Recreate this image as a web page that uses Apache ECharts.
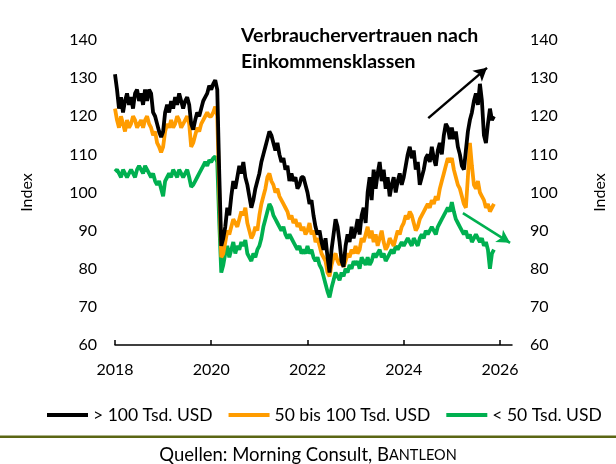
<!DOCTYPE html>
<html>
<head>
<meta charset="utf-8">
<script src="https://cdn.jsdelivr.net/npm/echarts@6/dist/echarts.min.js"></script>
<style>
  html, body { margin: 0; padding: 0; background: #fff; }
  #chart { width: 616px; height: 464px; }
</style>
</head>
<body>
<div id="chart"></div>
<script>
// half-monthly readings (1st and 16th of each month), Jan 2018 .. Nov 2025
const startYear = 2018
const yearTicks = [2018, 2020, 2022, 2024, 2026]

// > 100 Tsd. USD
const high = [
  131, 127, 122, 125, 121, 124, 126, 123, 125, 122, 126, 127, 124, 126, 123, 127, 124, 127, 126, 121, 120, 118, 116, 114.5, // 2018
  116, 121, 123, 121, 124, 122, 125, 123, 126, 124, 122, 124, 125, 123, 118, 116.5, 119, 121, 120, 122, 124, 125, 126, 128, // 2019
  127, 128.5, 129.5, 127, 105, 86, 88, 91, 96, 94, 99, 103, 101, 104, 107, 105, 108, 104, 102, 99, 96, 98, 101, 103,      // 2020
  105, 108, 110, 112, 114, 116, 115, 113, 111, 113, 110, 108, 109, 106, 107, 103, 105, 103, 104, 101, 102, 104, 104, 102, // 2021
  100, 97, 98, 94, 91, 89, 90, 87, 85, 88, 83, 79, 85, 89, 93, 91, 87, 82, 80.5, 86, 89, 87, 91, 88,                    // 2022
  90, 93, 89, 94, 96, 92, 100, 104, 98, 106, 101, 105, 108, 103, 106, 101, 104, 99, 102, 104, 100, 103, 105, 102,        // 2023
  104, 107, 110, 112, 109, 111, 106, 108, 102, 104, 106, 109, 110, 108, 112, 109, 107, 111, 113, 110, 115, 118, 117, 114, // 2024
  117, 114, 116, 112, 110, 107, 106, 111, 116, 119, 121, 124, 126, 123, 128.5, 124, 115, 113, 118, 122, 119, 120         // 2025
]
// 50 bis 100 Tsd. USD
const mid = [
  122, 119, 117, 120, 118, 116, 119, 117, 118, 120, 119, 117, 118, 119, 117, 119, 120, 118, 117, 115, 116, 113, 112, 110.5, // 2018
  112, 116, 118, 117, 119, 117, 118, 120, 119, 117, 118, 119, 120, 118, 112, 113, 115, 117, 116, 118, 119, 120, 121, 120,   // 2019
  120, 121, 122.5, 120, 100, 83, 84, 87, 90, 89, 91, 93, 92, 91, 93, 95, 94, 96, 92, 90, 88, 89, 91, 90,                  // 2020
  94, 97, 99, 101, 104, 105, 103, 102, 100, 101, 99, 98, 97, 96, 95, 93, 94, 92, 93, 91, 92, 90, 91, 89,                  // 2021
  90, 92, 89, 90, 87, 88, 86, 84, 83, 82, 79, 78, 81, 83, 84, 82, 81, 83, 80.5, 82, 84, 83, 85, 84,                       // 2022
  86, 84, 85, 88, 87, 89, 91, 88, 90, 87, 89, 86, 88, 90, 87, 85, 86, 88, 87, 86, 88, 90, 89, 91,                         // 2023
  92, 94, 93, 95, 94, 92, 90, 91, 93, 94, 95, 96, 97, 96, 98, 97, 99, 98, 101, 103, 105, 107, 109, 108,                   // 2024
  109, 106, 104, 102, 101, 99, 97, 96, 104, 113, 107, 102, 101, 103, 100, 99, 98, 96, 97, 95, 96, 97                      // 2025
]
// < 50 Tsd. USD
const low = [
  105.5, 106, 105, 104, 106, 105, 104, 105, 106, 105, 104, 106, 107, 106, 105, 107, 106, 105, 104, 105, 103, 102, 103, 101, // 2018
  99, 103, 104, 105, 104, 106, 105, 104, 106, 105, 104, 105, 106, 104, 101.5, 102, 103, 104, 105, 106, 107, 108, 107, 108.5, // 2019
  108, 109, 109.5, 108, 92, 79, 81, 84, 86, 83, 85, 87, 84, 86, 85, 87, 86, 87.5, 84, 83, 82, 84, 83, 85,                  // 2020
  86, 88, 91, 93, 95, 97, 96, 94, 93, 92, 91, 90, 91, 89, 88, 89, 88, 87, 86, 85, 86, 84, 85, 84,                          // 2021
  86, 84, 85, 83, 82, 83, 81, 80, 78, 76, 74, 72.5, 75, 77, 79, 78, 77, 79, 78, 80, 79, 81, 80, 82,                        // 2022
  81, 82, 80, 83, 82, 81, 83, 81, 82, 84, 83, 84, 85, 83, 84, 82, 83, 84, 85, 84, 86, 85, 86, 87,                          // 2023
  86, 87, 88, 87, 86, 88, 87, 86, 88, 89, 88, 90, 89, 90, 91, 90, 89, 91, 92, 93, 94, 95, 96, 95,                          // 2024
  97.5, 95, 93, 92, 91, 90, 89, 90, 88, 89, 87, 88, 89, 88, 87, 88, 86, 87, 85, 80, 84, 85                                 // 2025
]

// arrows (annotation) in data space
const arrowUp = [[2024.51, 119.5], [2025.73, 132.7]]
const arrowDown = [[2025.23, 94.6], [2026.21, 86.8]]

const FONT = 'Lato'

function toPoints(arr) {
  return arr.map((v, i) => [startYear + i / 24, v])
}

const chart = echarts.init(document.getElementById('chart'))

const yAxisBase = {
  type: 'value',
  min: 60,
  max: 140,
  interval: 10,
  axisLine: { show: false },
  axisTick: { show: false },
  splitLine: { show: false },
  axisLabel: { color: '#000', fontSize: 16, fontFamily: FONT, margin: 18 },
  name: 'Index',
  nameLocation: 'middle',
  nameRotate: 90,
  nameGap: 80,
  nameTextStyle: { color: '#000', fontSize: 16, fontFamily: FONT }
}

chart.setOption({
  animation: false,
  title: {
    text: 'Verbrauchervertrauen nach\nEinkommensklassen',
    left: 236,
    top: 18,
    textStyle: { color: '#000', fontSize: 19.5, fontWeight: 'bold', fontFamily: FONT, lineHeight: 26 }
  },
  grid: { left: 115, right: 104, top: 40, bottom: 119 },
  xAxis: {
    type: 'value',
    min: 2018,
    max: 2026.25,
    interval: 2,
    axisLine: { lineStyle: { color: '#000', width: 1.5 } },
    axisTick: { inside: true, length: 5, lineStyle: { color: '#000', width: 1.5 } },
    splitLine: { show: false },
    axisLabel: {
      color: '#000', fontSize: 16, fontFamily: FONT, margin: 17,
      showMaxLabel: false,
      formatter: v => (yearTicks.indexOf(v) >= 0 ? String(v) : '')
    }
  },
  yAxis: [
    Object.assign({}, yAxisBase, { position: 'left' }),
    Object.assign({}, yAxisBase, { position: 'right' })
  ],
  legend: {
    data: ['> 100 Tsd. USD', '50 bis 100 Tsd. USD', '< 50 Tsd. USD'],
    left: 42,
    top: 401,
    icon: 'rect',
    itemWidth: 41,
    itemHeight: 4,
    itemGap: 16,
    textStyle: { color: '#000', fontSize: 17.5, fontFamily: FONT }
  },
  graphic: [
    { type: 'rect', shape: { x: 0, y: 435.5, width: 616, height: 2.5 }, style: { fill: '#5b6614' } },
    {
      type: 'text', x: 308, y: 455,
      style: {
        text: '{a|Quellen: Morning Consult, B}{b|ANTLEON}',
        align: 'center', verticalAlign: 'middle',
        rich: {
          a: { fontSize: 18.5, fontFamily: FONT, fill: '#000' },
          b: { fontSize: 14.5, fontFamily: FONT, fill: '#000' }
        }
      }
    }
  ],
  series: [
    {
      name: '< 50 Tsd. USD', type: 'line', showSymbol: false,
      data: toPoints(low),
      itemStyle: { color: '#00b050' },
      lineStyle: { color: '#00b050', width: 3.8 },
      markLine: {
        silent: true, symbol: ['none', 'arrow'], symbolSize: [11, 13],
        label: { show: false },
        lineStyle: { color: '#00b050', width: 2.5, type: 'solid' },
        data: [[{ coord: arrowDown[0] }, { coord: arrowDown[1] }]]
      }
    },
    {
      name: '50 bis 100 Tsd. USD', type: 'line', showSymbol: false,
      data: toPoints(mid),
      itemStyle: { color: '#ff9c00' },
      lineStyle: { color: '#ff9c00', width: 3.8 }
    },
    {
      name: '> 100 Tsd. USD', type: 'line', showSymbol: false,
      data: toPoints(high),
      itemStyle: { color: '#000' },
      lineStyle: { color: '#000', width: 3.8 },
      markLine: {
        silent: true, symbol: ['none', 'arrow'], symbolSize: [11, 13],
        label: { show: false },
        lineStyle: { color: '#000', width: 2.5, type: 'solid' },
        data: [[{ coord: arrowUp[0] }, { coord: arrowUp[1] }]]
      }
    }
  ]
})
</script>
</body>
</html>
